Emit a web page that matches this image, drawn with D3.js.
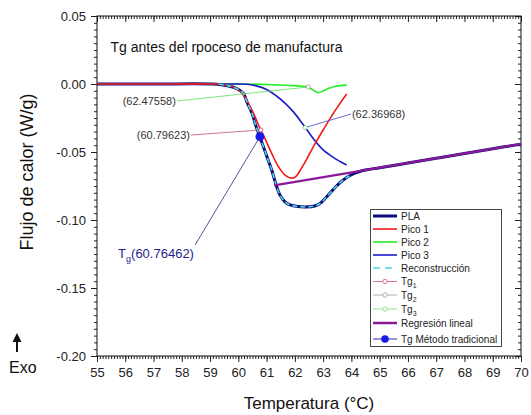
<!DOCTYPE html>
<html>
<head>
<meta charset="utf-8">
<script src="https://cdn.jsdelivr.net/npm/d3@7"></script>
<style>
  html, body { margin: 0; padding: 0; background: #fff; }
  svg { display: block; font-family: "Liberation Sans", Arial, sans-serif; }
</style>
</head>
<body>
<svg id="chart" width="531" height="415"></svg>
<script>
// ---- Data: DSC heat flow (W/g) vs temperature (°C) ----
const plaT  = [55, 57, 59, 59.4, 59.8, 60.0, 60.18, 60.3, 60.5, 60.6, 60.76, 61.0, 61.18, 61.32, 61.47, 61.65, 61.83, 62.1, 62.4, 62.7, 62.9, 63.12, 63.35, 63.6, 63.85, 64.1, 64.5, 65, 66, 67, 68, 69, 70];
const plaHF = [0, 0, 0, -0.0005, -0.0022, -0.0040, -0.0069, -0.0130, -0.0225, -0.0295, -0.0387, -0.0527, -0.0632, -0.0730, -0.0815, -0.0866, -0.0889, -0.0901, -0.0904, -0.0897, -0.0877, -0.0831, -0.0777, -0.0726, -0.0686, -0.0657, -0.0633, -0.0616, -0.0581, -0.0546, -0.0511, -0.0476, -0.0442];

const pico1T  = [55, 57, 59, 59.4, 59.8, 60.1, 60.3, 60.5, 60.8, 60.94, 61.18, 61.41, 61.65, 61.89, 62.05, 62.18, 62.42, 62.71, 63.01, 63.36, 63.6, 63.83];
const pico1HF = [0, 0, 0, -0.0004, -0.0020, -0.0060, -0.0120, -0.0200, -0.0340, -0.0400, -0.0510, -0.0605, -0.0670, -0.0692, -0.0677, -0.0638, -0.0552, -0.0441, -0.0335, -0.0216, -0.0142, -0.0074];

const pico2T  = [55, 58, 60.2, 61.2, 62.0, 62.2, 62.45, 62.65, 62.82, 63.0, 63.2, 63.45, 63.83];
const pico2HF = [0, 0, 0, -0.0005, -0.0012, -0.0015, -0.0022, -0.0045, -0.0064, -0.0052, -0.0032, -0.0016, -0.0008];

const pico3T  = [55, 58, 60.0, 60.3, 60.6, 61.0, 61.36, 61.65, 61.95, 62.3, 62.72, 63.0, 63.36, 63.6, 63.83];
const pico3HF = [0, 0, 0, -0.0002, -0.0012, -0.0040, -0.0090, -0.0140, -0.0205, -0.0300, -0.0420, -0.0485, -0.0540, -0.0570, -0.0596];

const reconT  = [59.3, 59.6, 59.8, 60.0, 60.18, 60.3, 60.5, 60.6, 60.76, 61.0, 61.18, 61.32, 61.47, 61.65, 61.83, 62.1, 62.4, 62.7, 62.9, 63.12, 63.35, 63.6, 63.85, 64.0];
const reconHF = [-0.0002, -0.0010, -0.0022, -0.0040, -0.0069, -0.0130, -0.0225, -0.0295, -0.0387, -0.0527, -0.0632, -0.0730, -0.0815, -0.0866, -0.0889, -0.0901, -0.0904, -0.0897, -0.0877, -0.0831, -0.0777, -0.0726, -0.0686, -0.0670];

const regT  = [61.27, 70];
const regHF = [-0.0745, -0.0441];

// Tg of each deconvoluted peak and the Tg by the traditional method
const tgPeakNames = ["1", "2", "3"];
const tgPeakT     = [60.79623, 62.47558, 62.36968];
const tgPeakHF    = [-0.0338, -0.0022, -0.0320];
const tgTradT  = 60.76462;
const tgTradHF = -0.0387;

const xTickValues = [55, 56, 57, 58, 59, 60, 61, 62, 63, 64, 65, 66, 67, 68, 69, 70];
const yTickValues = [0.05, 0.00, -0.05, -0.10, -0.15, -0.20];

// ---- Layout ----
const svg = d3.select("#chart");
const L = 97, R = 521, T = 16, B = 356;
const x = d3.scaleLinear().domain([55, 70]).range([L, R]);
const y = d3.scaleLinear().domain([0.05, -0.20]).range([T, B]);
const font = '"Liberation Sans", Arial, sans-serif';

svg.append("rect").attr("width", 531).attr("height", 415).attr("fill", "#fff");

// ---- Axes (ticks on all four sides) ----
const fmtY = v => (Math.abs(v) < 1e-9 ? "0.00" : v.toFixed(2));
const minorX = d3.range(55, 70.001, 0.1);
const minorY = d3.range(-0.20, 0.0501, 0.005);

function axisTicks(g, axis) {
  g.call(axis);
  g.select(".domain").remove();
  g.selectAll(".tick line").attr("stroke", "#222").attr("stroke-width", 1);
  g.selectAll(".tick text").attr("fill", "#222").style("font-family", font).style("font-size", "13px");
}

// bottom
svg.append("g").attr("transform", `translate(0,${B})`)
  .call(g => axisTicks(g, d3.axisBottom(x).tickValues(minorX).tickSize(3).tickFormat("")));
svg.append("g").attr("transform", `translate(0,${B})`)
  .call(g => axisTicks(g, d3.axisBottom(x).tickValues(xTickValues).tickSize(6).tickPadding(6).tickFormat(d3.format("d"))));
// top
svg.append("g").attr("transform", `translate(0,${T})`)
  .call(g => axisTicks(g, d3.axisBottom(x).tickValues(minorX).tickSize(3).tickFormat("")));
svg.append("g").attr("transform", `translate(0,${T})`)
  .call(g => axisTicks(g, d3.axisBottom(x).tickValues(xTickValues).tickSize(6).tickFormat("")));
// left
svg.append("g").attr("transform", `translate(${L},0)`)
  .call(g => axisTicks(g, d3.axisLeft(y).tickValues(minorY).tickSize(3).tickFormat("")));
svg.append("g").attr("transform", `translate(${L},0)`)
  .call(g => axisTicks(g, d3.axisLeft(y).tickValues(yTickValues).tickSize(6).tickPadding(5).tickFormat(fmtY)));
// right
svg.append("g").attr("transform", `translate(${R},0)`)
  .call(g => axisTicks(g, d3.axisLeft(y).tickValues(minorY).tickSize(3).tickFormat("")));
svg.append("g").attr("transform", `translate(${R},0)`)
  .call(g => axisTicks(g, d3.axisLeft(y).tickValues(yTickValues).tickSize(6).tickFormat("")));

// frame
svg.append("rect").attr("x", L).attr("y", T).attr("width", R - L).attr("height", B - T)
  .attr("fill", "none").attr("stroke", "#111").attr("stroke-width", 1);

// axis titles
svg.append("text").attr("x", (L + R) / 2).attr("y", 409).attr("text-anchor", "middle")
  .style("font-size", "17px").attr("fill", "#111").text("Temperatura (°C)");
svg.append("text").attr("transform", "translate(33,172) rotate(-90)").attr("text-anchor", "middle")
  .style("font-size", "18px").attr("fill", "#111").text("Flujo de calor (W/g)");

// Exo arrow
svg.append("path").attr("d", "M17,352 L17,340").attr("stroke", "#111").attr("stroke-width", 2);
svg.append("path").attr("d", "M12.5,342 L17,333 L21.5,342 Z").attr("fill", "#111");
svg.append("text").attr("x", 9).attr("y", 373).style("font-size", "16px").attr("fill", "#111").text("Exo");

// chart title
svg.append("text").attr("x", 110.5).attr("y", 52).style("font-size", "14px").attr("fill", "#111")
  .text("Tg antes del rpoceso de manufactura");

// ---- Curves ----
const plot = svg.append("g");
const lineOf = (ts, vs) => d3.line().curve(d3.curveCatmullRom.alpha(0.5))(ts.map((t, i) => [x(t), y(vs[i])]));

plot.append("path").attr("d", lineOf(plaT, plaHF)).attr("fill", "none").attr("stroke", "#0a0a78").attr("stroke-width", 3);
plot.append("path").attr("d", lineOf(pico2T, pico2HF)).attr("fill", "none").attr("stroke", "#22ee22").attr("stroke-width", 1.6);
plot.append("path").attr("d", lineOf(pico3T, pico3HF)).attr("fill", "none").attr("stroke", "#1c1ccc").attr("stroke-width", 1.6);
plot.append("path").attr("d", lineOf(pico1T, pico1HF)).attr("fill", "none").attr("stroke", "#f01818").attr("stroke-width", 1.6);
plot.append("path").attr("d", lineOf(reconT, reconHF)).attr("fill", "none").attr("stroke", "#49d6e6").attr("stroke-width", 1.6).attr("stroke-dasharray", "5,3");
plot.append("path").attr("d", lineOf(regT, regHF)).attr("fill", "none").attr("stroke", "#8a1a9a").attr("stroke-width", 2.2);

// ---- Annotations ----
const peakColors = ["#d8507a", "#9a9a9a", "#78d878"];
const leaderColors = ["#c8507a", "#55dd55", "#4848c8"];
const peakLabelAt = [
  { t: 58.29, v: -0.0375, anchor: "end" },
  { t: 57.79, v: -0.0125, anchor: "end" },
  { t: 64.02, v: -0.0221, anchor: "start" }
];
tgPeakT.forEach((t, i) => {
  const lab = peakLabelAt[i];
  const lx = x(lab.t), ly = y(lab.v);
  const sx = lab.anchor === "end" ? lx + 1 : lx - 1;
  svg.append("line").attr("x1", sx).attr("y1", ly).attr("x2", x(t)).attr("y2", y(tgPeakHF[i]))
    .attr("stroke", leaderColors[i]).attr("stroke-width", 0.8);
  svg.append("text").attr("x", lx).attr("y", ly + 4).attr("text-anchor", lab.anchor)
    .style("font-size", "11px").attr("fill", "#333").text(`(${t.toFixed(5)})`);
  svg.append("circle").attr("cx", x(t)).attr("cy", y(tgPeakHF[i])).attr("r", 2)
    .attr("fill", "#fff").attr("stroke", peakColors[i]).attr("stroke-width", 0.8);
});

// traditional-method Tg
svg.append("line").attr("x1", x(58.47)).attr("y1", y(-0.1184)).attr("x2", x(tgTradT)).attr("y2", y(tgTradHF))
  .attr("stroke", "#2a2a80").attr("stroke-width", 0.8);
svg.append("circle").attr("cx", x(tgTradT)).attr("cy", y(tgTradHF)).attr("r", 4.5).attr("fill", "#1a1ae6");
const tgLab = svg.append("text").attr("x", x(58.43)).attr("y", y(-0.1243) + 5).attr("text-anchor", "end")
  .style("font-size", "13px").attr("fill", "#1e1e8c");
tgLab.append("tspan").text("T");
tgLab.append("tspan").attr("dy", 4).style("font-size", "9px").text("g");
tgLab.append("tspan").attr("dy", -4).text(`(${tgTradT.toFixed(5)})`);

// ---- Legend ----
const lg = svg.append("g");
lg.append("rect").attr("x", 370.5).attr("y", 209.5).attr("width", 131).attr("height", 137)
  .attr("fill", "#fff").attr("stroke", "#444").attr("stroke-width", 1);
const legendItems = [
  { label: "PLA", color: "#0a0a78", w: 3 },
  { label: "Pico 1", color: "#f01818", w: 1.6 },
  { label: "Pico 2", color: "#22ee22", w: 1.6 },
  { label: "Pico 3", color: "#1c1ccc", w: 1.6 },
  { label: "Reconstrucción", color: "#49d6e6", w: 1.6, dash: "7,5" },
  { label: "Tg", sub: "1", color: peakColors[0], w: 0.8, marker: "open" },
  { label: "Tg", sub: "2", color: peakColors[1], w: 0.8, marker: "open" },
  { label: "Tg", sub: "3", color: peakColors[2], w: 0.8, marker: "open" },
  { label: "Regresión lineal", color: "#8a1a9a", w: 2.5 },
  { label: "Tg Método tradicional", color: "#2a2ab0", w: 1, marker: "filled" }
];
const rowY = [216, 229, 242, 255, 268, 281.5, 295, 309, 323, 339];
legendItems.forEach((d, i) => {
  const yy = rowY[i];
  lg.append("line").attr("x1", 373).attr("x2", 397).attr("y1", yy).attr("y2", yy)
    .attr("stroke", d.color).attr("stroke-width", d.w).attr("stroke-dasharray", d.dash || null);
  if (d.marker === "open") {
    lg.append("circle").attr("cx", 385).attr("cy", yy).attr("r", 2.2).attr("fill", "#fff").attr("stroke", d.color).attr("stroke-width", 0.8);
  } else if (d.marker === "filled") {
    lg.append("circle").attr("cx", 385).attr("cy", yy).attr("r", 3.8).attr("fill", "#1a1ae6");
  }
  const t = lg.append("text").attr("x", 401).attr("y", yy + 3.5).style("font-size", "10px").attr("fill", "#222");
  t.append("tspan").text(d.label);
  if (d.sub) t.append("tspan").attr("dy", 3).style("font-size", "7px").text(d.sub);
});
</script>
</body>
</html>
